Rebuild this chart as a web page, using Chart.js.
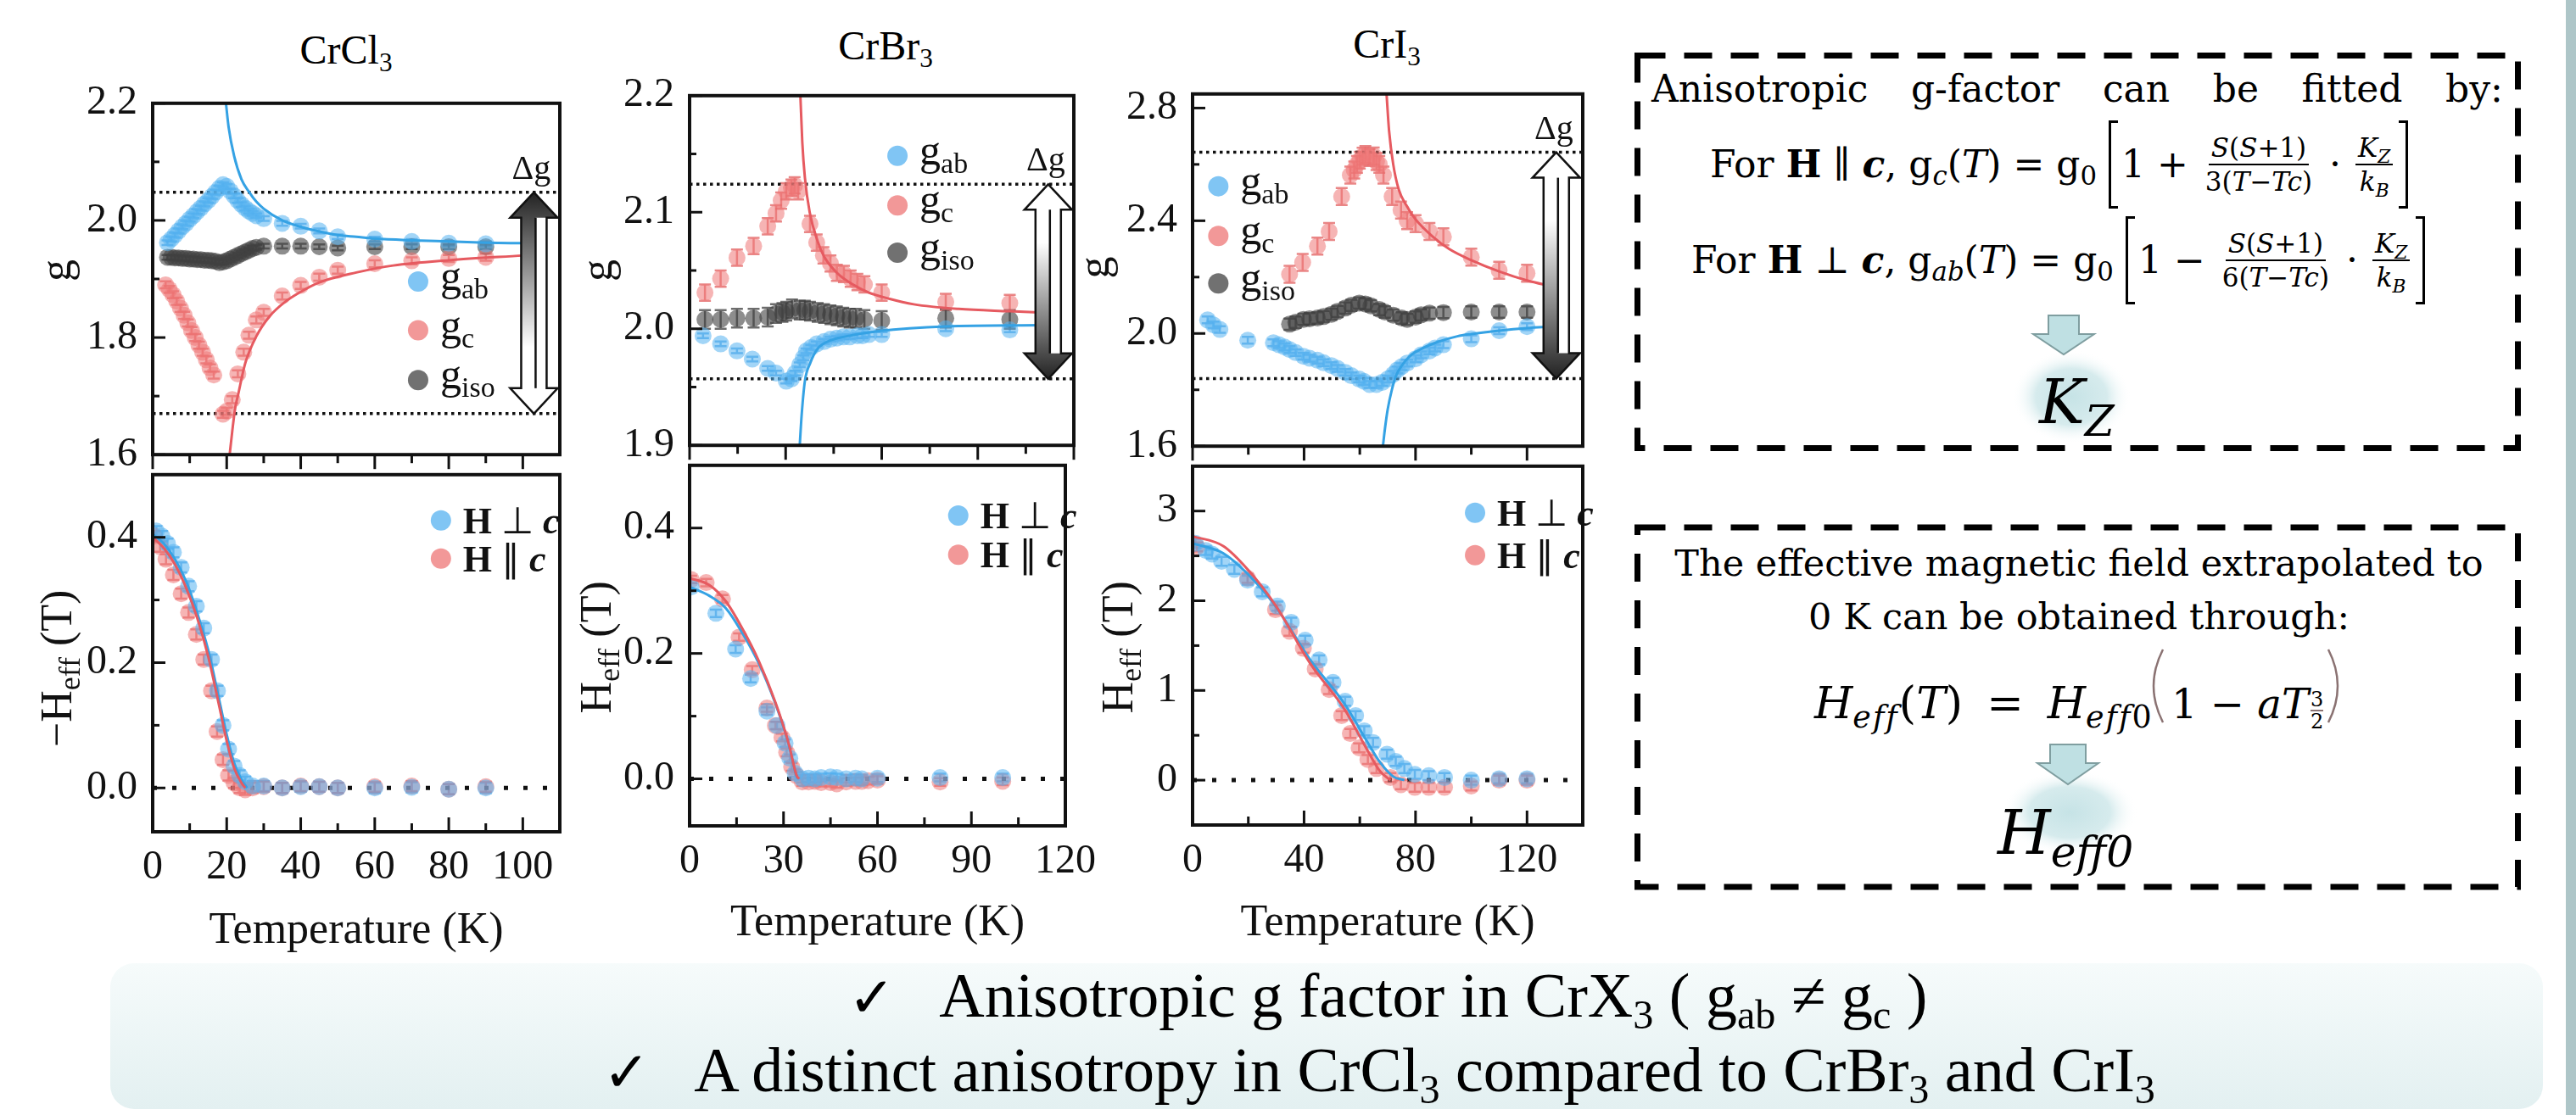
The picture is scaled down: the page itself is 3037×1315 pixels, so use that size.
<!DOCTYPE html>
<html>
<head>
<meta charset="utf-8">
<title>Anisotropic g factor in CrX3</title>
<script src="https://cdn.jsdelivr.net/npm/chart.js@4.4.1/dist/chart.umd.min.js"></script>
<style>
  html, body { margin: 0; padding: 0; background: #fff; }
  body { width: 3037px; height: 1315px; position: relative; overflow: hidden; font-family: 'Liberation Serif', serif; color: #000; }
  canvas { position: absolute; }
  .abs { position: absolute; white-space: nowrap; }
  .col { font-size: 48px; width: 240px; text-align: center; line-height: 48px; }
  .col sub, .chk sub { font-size: 0.65em; vertical-align: -0.3em; line-height: 0; }
  .box { font-family: 'DejaVu Serif', serif; }
  .just { display: flex; justify-content: space-between; }
  .frm { display: flex; align-items: center; }
  .frm > span { line-height: 1; }
  .frm sub, .bigf sub, .f2 sub { font-size: 0.7em; vertical-align: -0.3em; line-height: 0; }
  .f2 sub { letter-spacing: 2px; }
  .fr { display: inline-flex; flex-direction: column; align-items: center; font-size: 31px; margin: 0 3px; }
  .fr > span:first-child { border-bottom: 2.5px solid #000; padding: 0 3px 3px; }
  .fr > span:last-child { padding: 4px 3px 0; }
  .brk { width: 11px; height: 104px; border: 3px solid #000; box-sizing: border-box; }
  .brk.l { border-right: none; margin-right: 4px; }
  .brk.r { border-left: none; margin-left: 4px; }
  .sfr { display: inline-flex; flex-direction: column; font-size: 24px; line-height: 1; vertical-align: 14px; font-style: normal; margin-left: 2px; }
  .sfr > span:first-child { border-bottom: 2px solid #8a7272; }
  .chk { font-size: 74px; line-height: 74px; }
  .ck { font-family: 'DejaVu Sans', sans-serif; font-size: 66px; margin-right: 52px; }
</style>
</head>
<body>
<svg class="abs" style="left:0;top:0" width="3037" height="1315">
  <defs>
    <linearGradient id="tealBox" x1="0" y1="0" x2="0" y2="1">
      <stop offset="0" stop-color="#f6fbfb"/><stop offset="1" stop-color="#e3f0f1"/>
    </linearGradient>
    <radialGradient id="glow">
      <stop offset="0" stop-color="#c6e3e6"/><stop offset="0.6" stop-color="#d6ebed"/><stop offset="1" stop-color="#ffffff" stop-opacity="0"/>
    </radialGradient>
  </defs>
  <rect x="130" y="1136" width="2868" height="172" rx="28" fill="url(#tealBox)"/>
  <rect x="3025" y="0" width="12" height="1315" fill="#aec6c8"/>
  <rect x="1930.5" y="65.5" width="1038" height="463" fill="none" stroke="#000" stroke-width="7" stroke-dasharray="33 22"/>
  <rect x="1930.5" y="622" width="1038" height="424" fill="none" stroke="#000" stroke-width="7" stroke-dasharray="33 22"/>
  <ellipse cx="2442" cy="468" rx="70" ry="55" fill="url(#glow)"/>
  <ellipse cx="2440" cy="958" rx="80" ry="50" fill="url(#glow)"/>
  <polygon points="2415,372 2451,372 2451,394 2469,394 2433,418 2397,394 2415,394" fill="#bfe0e3" stroke="#7f9ea0" stroke-width="2"/>
  <polygon points="2417,878 2459,878 2459,900 2474,900 2438,925 2402,900 2417,900" fill="#bfe0e3" stroke="#7f9ea0" stroke-width="2"/>
  <path d="M2550 766 Q2528 809 2550 852" fill="none" stroke="#8a7272" stroke-width="2.5"/>
  <path d="M2745 766 Q2767 809 2745 852" fill="none" stroke="#8a7272" stroke-width="2.5"/>
</svg>

<div class="abs col" style="left:288px;top:35px;">CrCl<sub>3</sub></div>
<div class="abs col" style="left:924px;top:30px;">CrBr<sub>3</sub></div>
<div class="abs col" style="left:1515px;top:28px;">CrI<sub>3</sub></div>

<canvas id="clTop"></canvas>
<canvas id="clBot"></canvas>
<canvas id="brTop"></canvas>
<canvas id="brBot"></canvas>
<canvas id="iTop"></canvas>
<canvas id="iBot"></canvas>

<!-- right-hand boxes -->
<div class="abs box just" style="left:1947px;top:83px;width:1004px;font-size:44px;line-height:44px;">
  <span>Anisotropic</span><span>g-factor</span><span>can</span><span>be</span><span>fitted</span><span>by:</span>
</div>
<div class="abs box frm" style="left:2016px;top:141px;height:106px;font-size:44px;">
  <span>For&nbsp;<b>H</b>&nbsp;∥&nbsp;<b><i>c</i></b>,&nbsp;g<sub><i>c</i></sub>(<i>T</i>)&nbsp;=&nbsp;g<sub>0</sub>&nbsp;</span>
  <span class="brk l"></span>
  <span>1&nbsp;+&nbsp;</span>
  <span class="fr"><span><i>S</i>(<i>S</i>+1)</span><span>3(<i>T</i>−<i>Tc</i>)</span></span>
  <span>&nbsp;·&nbsp;</span>
  <span class="fr"><span><i>K<sub>Z</sub></i></span><span><i>k<sub>B</sub></i></span></span>
  <span class="brk r"></span>
</div>
<div class="abs box frm" style="left:1994px;top:254px;height:106px;font-size:44px;">
  <span>For&nbsp;<b>H</b>&nbsp;⊥&nbsp;<b><i>c</i></b>,&nbsp;g<sub><i>ab</i></sub>(<i>T</i>)&nbsp;=&nbsp;g<sub>0</sub>&nbsp;</span>
  <span class="brk l"></span>
  <span>1&nbsp;−&nbsp;</span>
  <span class="fr"><span><i>S</i>(<i>S</i>+1)</span><span>6(<i>T</i>−<i>Tc</i>)</span></span>
  <span>&nbsp;·&nbsp;</span>
  <span class="fr"><span><i>K<sub>Z</sub></i></span><span><i>k<sub>B</sub></i></span></span>
  <span class="brk r"></span>
</div>
<div class="abs box bigf" style="left:2404px;top:438px;font-size:72px;line-height:72px;font-style:italic;">K<sub>Z</sub></div>

<div class="abs box" style="left:1951px;width:1000px;top:643px;font-size:43px;line-height:43px;text-align:center;">The effective magnetic field extrapolated to</div>
<div class="abs box" style="left:1951px;width:1000px;top:706px;font-size:43px;line-height:43px;text-align:center;">0 K can be obtained through:</div>
<div class="abs box f2" style="left:2139px;top:803px;font-size:52px;line-height:52px;"><i>H</i><sub><i>eff</i></sub>(<i>T</i>)<span style="margin:0 28px">=</span><i>H</i><sub><i>eff</i>0</sub></div>
<div class="abs box f2" style="left:2560px;top:806px;font-size:48px;line-height:48px;">1 − <i>aT</i><span class="sfr"><span>3</span><span>2</span></span></div>
<div class="abs box bigf" style="left:2355px;top:946px;font-size:72px;line-height:72px;font-style:italic;">H<sub>eff0</sub></div>

<!-- summary -->
<div class="abs chk" style="left:1000px;top:1137px;"><span class="ck">✓</span>Anisotropic g factor in CrX<sub>3</sub> ( g<sub>ab</sub> ≠ g<sub>c</sub> )</div>
<div class="abs chk" style="left:711px;top:1225px;"><span class="ck">✓</span>A distinct anisotropy in CrCl<sub>3</sub> compared to CrBr<sub>3</sub> and CrI<sub>3</sub></div>

<script>
// ---------- axis ranges and tick labels ----------
const clTempRange = [0, 110], brTempRange = [0, 120], iTempRange = [0, 140];
const clTempTicks = [0, 20, 40, 60, 80, 100], clTempMinor = [10, 30, 50, 70, 90];
const brTempTicks = [0, 30, 60, 90, 120], brTempMinor = [15, 45, 75, 105];
const iTempTicks = [0, 40, 80, 120], iTempMinor = [20, 60, 100];

const clGRange = [1.6, 2.2], clGTicks = [1.6, 1.8, 2.0, 2.2], clGMinor = [1.7, 1.9, 2.1];
const brGRange = [1.9, 2.2], brGTicks = [1.9, 2.0, 2.1, 2.2], brGMinor = [1.95, 2.05, 2.15];
const iGRange = [1.6, 2.85], iGTicks = [1.6, 2.0, 2.4, 2.8], iGMinor = [1.8, 2.2, 2.6];

const clHRange = [-0.07, 0.5], clHTicks = [0, 0.2, 0.4], clHMinor = [0.1, 0.3];
const brHRange = [-0.075, 0.5], brHTicks = [0, 0.2, 0.4], brHMinor = [0.1, 0.3];
const iHRange = [-0.5, 3.5], iHTicks = [0, 1, 2, 3], iHMinor = [0.5, 1.5, 2.5];

// ---------- CrCl3 : g factor vs T ----------
const clGab = [[4,1.962],[5,1.968],[6,1.975],[7,1.982],[8,1.989],[9,1.995],[10,2.002],[11,2.008],[12,2.015],[13,2.021],[14,2.028],[15,2.034],[16,2.041],[17,2.048],[18,2.055],[19,2.061],[20,2.058],[21,2.05],[22,2.042],[23,2.034],[24,2.027],[25,2.021],[26,2.016],[27,2.012],[28,2.008],[30,2.003],[35,1.995],[40,1.99],[45,1.982],[50,1.972],[60,1.968],[70,1.964],[80,1.961],[90,1.96]];
const clGc = [[3.5,1.89],[4.5,1.882],[5.5,1.873],[6.5,1.862],[7.5,1.85],[8.5,1.838],[9.5,1.825],[10.5,1.812],[11.5,1.8],[12.5,1.787],[13.5,1.775],[14.5,1.762],[15.5,1.748],[16.5,1.736],[19,1.669],[20,1.674],[21.5,1.694],[23,1.738],[24.6,1.775],[26,1.804],[28,1.83],[30,1.843],[35,1.871],[40,1.889],[45,1.903],[50,1.915],[60,1.926],[70,1.931],[80,1.935],[90,1.937]];
const clGiso = [[4,1.937],[5,1.937],[6,1.936],[7,1.936],[8,1.935],[9,1.935],[10,1.934],[11,1.934],[12,1.933],[13,1.933],[14,1.932],[15,1.932],[16,1.931],[17,1.93],[18,1.928],[19,1.929],[20,1.931],[21,1.934],[22,1.937],[23,1.94],[24,1.943],[25,1.946],[26,1.949],[27,1.952],[28,1.954],[30,1.956],[35,1.956],[40,1.956],[45,1.955],[50,1.953],[60,1.955],[70,1.955],[80,1.955],[90,1.955]];
const clFitAb = [[19.8,2.2],[20.5,2.16],[22,2.11],[24,2.07],[26,2.049],[28,2.032],[30,2.02],[35,2.0],[40,1.989],[45,1.981],[50,1.975],[55,1.972],[60,1.969],[70,1.966],[80,1.964],[90,1.962],[100,1.961]];
const clFitC = [[20.8,1.6],[21.5,1.64],[22.3,1.68],[23,1.7],[25,1.756],[28,1.802],[31.7,1.837],[35.6,1.86],[40,1.878],[45,1.894],[55,1.911],[65,1.923],[80,1.932],[100,1.94]];
const clDg = [2.048, 1.67];
const clErrAb = 0.004, clErrC = 0.006, clErrIso = 0.004;

// ---------- CrCl3 : -Heff vs T ----------
const clHperp = [[1,0.41],[2.5,0.402],[4,0.39],[5.6,0.376],[7.7,0.352],[9.7,0.322],[11.8,0.29],[13.8,0.255],[15.9,0.205],[17.5,0.155],[19,0.1],[20.5,0.062],[22,0.035],[23.5,0.02],[25,0.01],[27,0.003],[30,0.003],[35,0.0],[40,0.002],[45,0.002],[50,0.0],[60,0.0],[70,0.001],[80,-0.002],[90,0.0]];
const clHpar = [[0.5,0.402],[2,0.385],[3.6,0.365],[5.6,0.34],[7.7,0.31],[9.7,0.28],[11.8,0.245],[13.8,0.205],[15.9,0.155],[17.4,0.09],[19,0.045],[20.5,0.02],[22,0.008],[23.5,0.0],[25,-0.003],[27,0.0],[30,0.002],[35,0.0],[40,0.003],[45,0.002],[50,0.0],[60,0.002],[70,0.003],[80,-0.002],[90,0.002]];
const clFitPerp = [[0,0.405],[3,0.39],[6,0.365],[9,0.33],[12,0.28],[15,0.22],[18,0.14],[20,0.085],[22,0.04],[24,0.013],[25.5,0.0]];
const clFitPar = [[0,0.4],[3,0.383],[6,0.357],[9,0.32],[12,0.272],[15,0.21],[18,0.13],[20,0.075],[22,0.032],[24,0.008],[25,0.0]];
const clErrH = 0.008;

// ---------- CrBr3 : g factor vs T ----------
const brGab = [[4.2,1.994],[9.7,1.987],[14.8,1.981],[19.6,1.974],[24.4,1.966],[27,1.962],[30.2,1.955],[31.8,1.957],[33,1.962],[34.4,1.969],[35.5,1.975],[36.5,1.981],[38,1.984],[39.7,1.987],[42,1.989],[44,1.991],[46,1.992],[48,1.993],[50,1.993],[52.4,1.994],[54,1.994],[56,1.995],[60,1.995],[80,2.0],[100,1.999]];
const brGc = [[4.8,2.031],[9.7,2.043],[14.8,2.061],[20,2.071],[24.4,2.088],[27,2.099],[28.6,2.11],[30.2,2.118],[31.8,2.121],[32.8,2.123],[33.9,2.118],[37.6,2.09],[39.7,2.074],[41.8,2.063],[44,2.056],[46,2.048],[48.2,2.047],[50.3,2.043],[52.4,2.04],[54.6,2.038],[60,2.031],[80,2.023],[100,2.022]];
const brGiso = [[4.8,2.008],[9.7,2.008],[14.8,2.009],[20,2.009],[24.4,2.01],[27,2.013],[29,2.014],[30.2,2.015],[32,2.017],[34.4,2.016],[36,2.016],[37.6,2.015],[40,2.014],[42,2.013],[44,2.012],[46,2.011],[48,2.01],[50,2.009],[52,2.009],[54.6,2.008],[60,2.007],[80,2.009],[100,2.008]];
const brFitAb = [[34.4,1.9],[35,1.926],[36,1.955],[37.6,1.97],[40,1.983],[44,1.99],[48,1.993],[59,1.998],[80,2.002],[110,2.003]];
const brFitC = [[34.6,2.2],[35.2,2.16],[36,2.13],[37.5,2.1],[40,2.075],[42,2.062],[46,2.048],[51,2.038],[56,2.031],[62,2.026],[70,2.021],[84,2.017],[100,2.015],[109,2.014]];
const brDg = [2.124, 1.957];
const brErrAb = 0.002, brErrC = 0.007, brErrIso = 0.008;

// ---------- CrBr3 : Heff vs T ----------
const brHperp = [[0.5,0.306],[8.4,0.264],[14.7,0.207],[19.5,0.16],[24.7,0.108],[27.9,0.085],[30.5,0.057],[32,0.033],[33.7,0.009],[36,0.0],[38,0.001],[40,0.0],[42,0.002],[45,0.003],[47,0.002],[50,0.0],[53,0.001],[55,0.0],[60,0.001],[80,0.002],[100,0.002]];
const brHpar = [[0.5,0.318],[5.3,0.313],[10.5,0.287],[15.8,0.226],[20,0.174],[24.7,0.113],[27.4,0.085],[29.5,0.066],[31,0.042],[32.6,0.019],[34.2,0.005],[36,-0.005],[38,-0.005],[40,-0.004],[42,-0.006],[45,-0.006],[47,-0.008],[50,-0.005],[53,-0.004],[55,-0.004],[57,-0.003],[60,-0.002],[80,-0.005],[100,-0.004]];
const brFitPerp = [[0,0.306],[6.3,0.292],[11.6,0.272],[16.8,0.233],[22.1,0.184],[27.4,0.12],[31.6,0.056],[34.2,0.004],[35,0]];
const brFitPar = [[0,0.32],[6.3,0.309],[11.6,0.283],[16.8,0.24],[22.1,0.188],[27.4,0.122],[31.6,0.057],[34.2,0.005],[35,0]];
const brErrH = 0.006;

// ---------- CrI3 : g factor vs T ----------
const iGab = [[5.4,2.048],[7.5,2.03],[9.8,2.014],[19.8,1.976],[29,1.967],[31,1.96],[33,1.952],[34.8,1.943],[37,1.932],[39.8,1.919],[42,1.912],[44.8,1.905],[47,1.896],[49.8,1.886],[52,1.876],[54.8,1.862],[57,1.85],[59.8,1.838],[61.5,1.83],[63.5,1.819],[66,1.819],[68,1.826],[70,1.838],[72,1.855],[73.5,1.871],[75,1.882],[77,1.895],[80,1.91],[82,1.924],[85,1.938],[87,1.948],[90,1.96],[100,1.981],[110,2.01],[120,2.024]];
const iGc = [[34.8,2.21],[39.5,2.252],[44.8,2.31],[49,2.362],[53.5,2.486],[56.6,2.562],[58,2.58],[59,2.6],[60,2.615],[61,2.629],[62,2.635],[63.5,2.624],[65,2.63],[66,2.61],[67,2.6],[68.5,2.562],[71.6,2.486],[74.8,2.438],[77,2.4],[80,2.39],[85,2.362],[90,2.343],[100,2.271],[110,2.224],[120,2.214]];
const iGiso = [[34.8,2.033],[37,2.04],[39.8,2.05],[42,2.052],[44.8,2.055],[47,2.06],[49.8,2.068],[52,2.078],[54.8,2.09],[57,2.1],[59.8,2.108],[62,2.105],[64,2.098],[67,2.085],[69,2.076],[72,2.065],[75,2.055],[77,2.05],[80,2.058],[82,2.066],[85,2.072],[90,2.074],[100,2.076],[110,2.076],[120,2.076]];
const iFitAb = [[68.3,1.6],[69,1.66],[70,1.73],[71.5,1.8],[73,1.85],[75,1.885],[78,1.92],[82,1.945],[88,1.97],[95,1.99],[100,1.998],[110,2.01],[120,2.019],[128.5,2.024]];
const iFitC = [[69.6,2.85],[70.5,2.72],[72,2.6],[74,2.51],[77,2.45],[80,2.405],[86,2.345],[92,2.3],[100,2.26],[110,2.22],[120,2.188],[129,2.167]];
const iDg = [2.643, 1.84];
const iErrAb = 0.012, iErrC = 0.03, iErrIso = 0.02;

// ---------- CrI3 : Heff vs T ----------
const iHperp = [[1,2.64],[4.75,2.56],[7,2.52],[10.4,2.44],[15,2.35],[19.75,2.23],[25,2.1],[30.4,1.94],[35.4,1.76],[40.4,1.56],[45.4,1.34],[50.4,1.09],[54.75,0.88],[58.5,0.72],[61.6,0.55],[64.75,0.42],[69.75,0.29],[72.9,0.21],[76,0.13],[79.75,0.065],[84.75,0.05],[90.4,0.03],[100,0.0],[110,0.016],[120,0.016]];
const iHpar = [[1.6,2.6],[19.75,2.25],[29.75,1.9],[34.75,1.66],[39.75,1.47],[44,1.24],[49,1.01],[53.5,0.72],[56.6,0.52],[59.75,0.36],[62.9,0.23],[66,0.13],[71,0.03],[74.75,-0.05],[79.75,-0.08],[84.75,-0.08],[90.4,-0.08],[100,-0.065],[110,0.0],[120,0.0]];
const iFitPerp = [[0,2.64],[11,2.53],[19.75,2.3],[29.75,1.94],[42.25,1.34],[54.75,0.84],[62.25,0.45],[67.25,0.2],[72,0.04],[76,0]];
const iFitPar = [[0,2.72],[11,2.61],[19.75,2.35],[29.75,1.95],[42.25,1.3],[54.75,0.78],[62.25,0.36],[67.25,0.1],[71,0]];
const iErrH = 0.05;

// ---------- styling ----------
const F = "'Liberation Serif', serif";
const BLUE_PT = 'rgba(86,178,240,0.55)', BLUE_ERR = 'rgba(70,160,230,0.75)', BLUE_LINE = '#35a2e4';
const RED_PT = 'rgba(238,118,118,0.55)', RED_ERR = 'rgba(225,95,95,0.75)', RED_LINE = '#e65a60';
const GRAY_PT = 'rgba(65,65,65,0.6)', GRAY_ERR = 'rgba(60,60,60,0.75)';
const LEG_BLUE = 'rgba(86,178,240,0.75)', LEG_RED = 'rgba(238,118,118,0.75)', LEG_GRAY = 'rgba(65,65,65,0.75)';

// frame boxes (page pixels)
const BOX = {
  cl: {l: 180, r: 660, t: 105, m: 543, b: 981, tt: 1099},
  br: {l: 813, r: 1266, t: 96, m: 532, b: 974, tt: 1090},
  i: {l: 1406, r: 1866, t: 94, m: 533, b: 973, tt: 1090}
};

const xy = a => a.map(p => ({x: p[0], y: p[1]}));

function pointSet(arr, color, err, errColor) {
  return {type: 'scatter', data: xy(arr), showLine: false, pointRadius: 10, pointHoverRadius: 10,
    pointBackgroundColor: color, pointBorderWidth: 0, err: err, errColor: errColor};
}
function fitSet(arr, color) {
  return {type: 'line', data: xy(arr), showLine: true, borderColor: color, borderWidth: 3,
    pointRadius: 0, cubicInterpolationMode: 'monotone', fill: false};
}
function dotSet(v, range, dash, width) {
  return {type: 'line', data: [{x: range[0], y: v}, {x: range[1], y: v}], borderColor: '#111',
    borderWidth: width, borderDash: dash, pointRadius: 0, fill: false};
}

function rich(ctx, parts, x, y, center) {
  let w = 0;
  parts.forEach(p => { ctx.font = p[1]; w += ctx.measureText(p[0]).width; });
  let cx = center ? x - w / 2 : x;
  parts.forEach(p => { ctx.font = p[1]; ctx.fillText(p[0], cx, y + (p[2] || 0)); cx += ctx.measureText(p[0]).width; });
}

function dgArrow(ctx, cx, yt, yb, darkTop) {
  const hw = 28, sw = 15, hl = 30;
  const outline = () => {
    ctx.beginPath();
    ctx.moveTo(cx, yt); ctx.lineTo(cx + hw, yt + hl); ctx.lineTo(cx + sw, yt + hl);
    ctx.lineTo(cx + sw, yb - hl); ctx.lineTo(cx + hw, yb - hl); ctx.lineTo(cx, yb);
    ctx.lineTo(cx - hw, yb - hl); ctx.lineTo(cx - sw, yb - hl); ctx.lineTo(cx - sw, yt + hl);
    ctx.lineTo(cx - hw, yt + hl); ctx.closePath();
  };
  outline(); ctx.fillStyle = '#fff'; ctx.fill();
  const g = ctx.createLinearGradient(0, yt, 0, yb);
  if (darkTop) { g.addColorStop(0, '#222'); g.addColorStop(0.7, '#fff'); }
  else { g.addColorStop(0.3, '#fff'); g.addColorStop(1, '#222'); }
  ctx.fillStyle = g;
  ctx.beginPath();
  if (darkTop) {
    ctx.moveTo(cx, yt); ctx.lineTo(cx + hw, yt + hl); ctx.lineTo(cx + 2, yt + hl);
    ctx.lineTo(cx + 2, yb - hl); ctx.lineTo(cx - sw, yb - hl); ctx.lineTo(cx - sw, yt + hl); ctx.lineTo(cx - hw, yt + hl);
  } else {
    ctx.moveTo(cx, yb); ctx.lineTo(cx + hw, yb - hl); ctx.lineTo(cx + 2, yb - hl);
    ctx.lineTo(cx + 2, yt + hl); ctx.lineTo(cx - sw, yt + hl); ctx.lineTo(cx - sw, yb - hl); ctx.lineTo(cx - hw, yb - hl);
  }
  ctx.closePath(); ctx.fill();
  ctx.strokeStyle = '#111'; ctx.lineWidth = 2.5;
  outline(); ctx.stroke();
  ctx.beginPath(); ctx.moveTo(cx + 2, yt + hl); ctx.lineTo(cx + 2, yb - hl); ctx.stroke();
}

// per-canvas decorations: frame, inward/outward ticks, error bars, legends, Δg arrow, y titles
const decorCfg = {};
const frameDecor = {
  id: 'frameDecor',
  beforeDatasetsDraw(chart) {
    const d = decorCfg[chart.canvas.id];
    if (!d) return;
    const {ctx, chartArea: a, scales: {x, y}} = chart;
    ctx.save();
    ctx.beginPath(); ctx.rect(a.left, a.top, a.right - a.left, a.bottom - a.top); ctx.clip();
    chart.data.datasets.forEach(ds => {
      if (!ds.err) return;
      ctx.strokeStyle = ds.errColor; ctx.lineWidth = 2.5;
      ds.data.forEach(pt => {
        const px = x.getPixelForValue(pt.x);
        const y1 = y.getPixelForValue(pt.y + ds.err), y2 = y.getPixelForValue(pt.y - ds.err);
        ctx.beginPath();
        ctx.moveTo(px, y1); ctx.lineTo(px, y2);
        ctx.moveTo(px - 7, y1); ctx.lineTo(px + 7, y1);
        ctx.moveTo(px - 7, y2); ctx.lineTo(px + 7, y2);
        ctx.stroke();
      });
    });
    ctx.restore();
  },
  afterDatasetsDraw(chart) {
    const d = decorCfg[chart.canvas.id];
    if (!d) return;
    const {ctx, chartArea: a, scales: {x, y}} = chart;
    const aw = a.right - a.left, ah = a.bottom - a.top;
    ctx.save();
    ctx.textBaseline = 'alphabetic';
    if (d.arrow) {
      const cx = x.getPixelForValue(d.arrow.x);
      const yt = y.getPixelForValue(d.arrow.top), yb = y.getPixelForValue(d.arrow.bottom);
      dgArrow(ctx, cx, yt, yb, d.arrow.darkTop);
      ctx.fillStyle = '#111';
      rich(ctx, [['Δg', '40px ' + F]], cx - 3, yt - 16, true);
    }
    if (d.legend) {
      d.legend.forEach(it => {
        const mx = a.left + it.fx * aw, my = a.top + it.fy * ah;
        ctx.fillStyle = it.color;
        ctx.beginPath(); ctx.arc(mx, my, 12, 0, Math.PI * 2); ctx.fill();
        ctx.fillStyle = '#111';
        rich(ctx, it.parts, mx + 26, my + it.base, false);
      });
    }
    // frame and tick marks
    ctx.strokeStyle = '#111'; ctx.lineWidth = 4;
    ctx.strokeRect(a.left, a.top, aw, ah);
    ctx.lineWidth = 3;
    const seg = (x1, y1, x2, y2) => { ctx.beginPath(); ctx.moveTo(x1, y1); ctx.lineTo(x2, y2); ctx.stroke(); };
    const dir = d.xOut ? 1 : -1;
    d.xMajor.forEach(v => { const px = x.getPixelForValue(v); seg(px, a.bottom, px, a.bottom + dir * 17); });
    d.xMinor.forEach(v => { const px = x.getPixelForValue(v); seg(px, a.bottom, px, a.bottom + dir * 10); });
    d.yMajor.forEach(v => { const py = y.getPixelForValue(v); seg(a.left, py, a.left + 15, py); });
    d.yMinor.forEach(v => { const py = y.getPixelForValue(v); seg(a.left, py, a.left + 8, py); });
    // rotated y-axis title
    if (d.yTitle) {
      ctx.save();
      ctx.translate(a.left + d.yTitle.dx, (a.top + a.bottom) / 2 + d.yTitle.dy);
      ctx.rotate(-Math.PI / 2);
      ctx.fillStyle = '#111';
      rich(ctx, d.yTitle.parts, 0, d.yTitle.base, true);
      ctx.restore();
    }
    ctx.restore();
  }
};

function buildPanel(p) {
  const c = document.getElementById(p.id);
  const top = p.part === 'top';
  const X = p.box.l - 170, W = p.box.r - p.box.l + 210;
  const Y = top ? p.box.t - 30 : p.box.m - 30;
  const H = top ? p.box.m - p.box.t + 70 : p.box.tt + 42 - Y;
  const axisH = top ? 0 : p.box.tt + 42 - p.box.b;
  c.width = W; c.height = H;
  c.style.left = X + 'px'; c.style.top = Y + 'px';
  c.style.width = W + 'px'; c.style.height = H + 'px';
  decorCfg[p.id] = p.decor;
  return new Chart(c, {
    type: 'scatter',
    data: {datasets: p.datasets},
    options: {
      responsive: false, animation: false, devicePixelRatio: 1, events: [],
      layout: {padding: {left: 0, top: 30, right: 40, bottom: top ? 40 : 0}},
      plugins: {legend: {display: false}, tooltip: {enabled: false}},
      scales: {
        x: {
          type: 'linear', min: p.xRange[0], max: p.xRange[1], display: !top,
          afterBuildTicks: s => { s.ticks = p.xTicks.map(v => ({value: v})); },
          afterFit: s => { s.height = axisH; },
          grid: {display: false, drawTicks: false}, border: {display: false},
          ticks: {color: '#111', font: {family: F, size: 48}, padding: 14, maxRotation: 0, autoSkip: false},
          title: {display: true, text: 'Temperature (K)', color: '#111', font: {family: F, size: 52}, padding: {top: 0, bottom: 11}}
        },
        y: {
          type: 'linear', min: p.yRange[0], max: p.yRange[1],
          afterBuildTicks: s => { s.ticks = p.yTicks.map(v => ({value: v})); },
          afterFit: s => { s.width = 170; },
          grid: {display: false, drawTicks: false}, border: {display: false},
          ticks: {color: '#111', font: {family: F, size: 48}, padding: 18, autoSkip: false, callback: v => v.toFixed(p.dec)}
        }
      }
    },
    plugins: [frameDecor]
  });
}

const gLegend = (fx, fys) => [
  {color: LEG_BLUE, fx: fx, fy: fys[0], base: 10, parts: [['g', '50px ' + F], ['ab', '34px ' + F, 10]]},
  {color: LEG_RED, fx: fx, fy: fys[1], base: 10, parts: [['g', '50px ' + F], ['c', '34px ' + F, 10]]},
  {color: LEG_GRAY, fx: fx, fy: fys[2], base: 10, parts: [['g', '50px ' + F], ['iso', '34px ' + F, 10]]}
];
const hLegend = (fx, fys) => [
  {color: LEG_BLUE, fx: fx, fy: fys[0], base: 15, parts: [['H', 'bold 44px ' + F], [' ⊥ ', '44px ' + F], ['c', 'bold italic 44px ' + F]]},
  {color: LEG_RED, fx: fx, fy: fys[1], base: 15, parts: [['H', 'bold 44px ' + F], [' ∥ ', '44px ' + F], ['c', 'bold italic 44px ' + F]]}
];
const gTitle = (dx, dy) => ({dx: dx, dy: dy, base: 12, parts: [['g', '52px ' + F]]});
const hTitle = (dx, dy, minus) => ({dx: dx, dy: dy, base: 17,
  parts: [[(minus ? '−' : '') + 'H', '52px ' + F], ['eff', '36px ' + F, 10], [' (T)', '52px ' + F]]});

// ---------- CrCl3 ----------
buildPanel({
  id: 'clTop', part: 'top', box: BOX.cl, xRange: clTempRange, xTicks: clTempTicks,
  yRange: clGRange, yTicks: clGTicks, dec: 1,
  datasets: [fitSet(clFitAb, BLUE_LINE), fitSet(clFitC, RED_LINE),
    pointSet(clGab, BLUE_PT, clErrAb, BLUE_ERR), pointSet(clGc, RED_PT, clErrC, RED_ERR), pointSet(clGiso, GRAY_PT, clErrIso, GRAY_ERR),
    dotSet(clDg[0], clTempRange, [3.5, 4.5], 3.5), dotSet(clDg[1], clTempRange, [3.5, 4.5], 3.5)],
  decor: {xMajor: clTempTicks, xMinor: clTempMinor, xOut: true, yMajor: clGTicks, yMinor: clGMinor,
    arrow: {x: 103, top: clDg[0], bottom: clDg[1], darkTop: true},
    legend: gLegend(0.652, [0.507, 0.646, 0.788]), yTitle: gTitle(-109, -10)}
});
buildPanel({
  id: 'clBot', part: 'bottom', box: BOX.cl, xRange: clTempRange, xTicks: clTempTicks,
  yRange: clHRange, yTicks: clHTicks, dec: 1,
  datasets: [fitSet(clFitPar, RED_LINE), fitSet(clFitPerp, BLUE_LINE),
    pointSet(clHperp, BLUE_PT, clErrH, BLUE_ERR), pointSet(clHpar, RED_PT, clErrH, RED_ERR),
    dotSet(0, clTempRange, [5, 18], 5)],
  decor: {xMajor: clTempTicks, xMinor: clTempMinor, xOut: false, yMajor: clHTicks, yMinor: clHMinor,
    legend: hLegend(0.708, [0.128, 0.235]), yTitle: hTitle(-113, 18, true)}
});

// ---------- CrBr3 ----------
buildPanel({
  id: 'brTop', part: 'top', box: BOX.br, xRange: brTempRange, xTicks: brTempTicks,
  yRange: brGRange, yTicks: brGTicks, dec: 1,
  datasets: [fitSet(brFitC, RED_LINE), fitSet(brFitAb, BLUE_LINE),
    pointSet(brGab, BLUE_PT, brErrAb, BLUE_ERR), pointSet(brGc, RED_PT, brErrC, RED_ERR), pointSet(brGiso, GRAY_PT, brErrIso, GRAY_ERR),
    dotSet(brDg[0], brTempRange, [3.5, 4.5], 3.5), dotSet(brDg[1], brTempRange, [3.5, 4.5], 3.5)],
  decor: {xMajor: brTempTicks, xMinor: brTempMinor, xOut: true, yMajor: brGTicks, yMinor: brGMinor,
    arrow: {x: 112, top: brDg[0], bottom: brDg[1], darkTop: false},
    legend: gLegend(0.541, [0.172, 0.314, 0.449]), yTitle: gTitle(-104, 0)}
});
buildPanel({
  id: 'brBot', part: 'bottom', box: BOX.br, xRange: brTempRange, xTicks: brTempTicks,
  yRange: brHRange, yTicks: brHTicks, dec: 1,
  datasets: [fitSet(brFitPar, RED_LINE), fitSet(brFitPerp, BLUE_LINE),
    pointSet(brHperp, BLUE_PT, brErrH, BLUE_ERR), pointSet(brHpar, RED_PT, brErrH, RED_ERR),
    dotSet(0, brTempRange, [5, 18], 5)],
  decor: {xMajor: brTempTicks, xMinor: brTempMinor, xOut: false, yMajor: brHTicks, yMinor: brHMinor,
    legend: hLegend(0.715, [0.139, 0.248]), yTitle: hTitle(-110, 2, false)}
});

// ---------- CrI3 ----------
buildPanel({
  id: 'iTop', part: 'top', box: BOX.i, xRange: iTempRange, xTicks: iTempTicks,
  yRange: iGRange, yTicks: iGTicks, dec: 1,
  datasets: [fitSet(iFitC, RED_LINE), fitSet(iFitAb, BLUE_LINE),
    pointSet(iGab, BLUE_PT, iErrAb, BLUE_ERR), pointSet(iGc, RED_PT, iErrC, RED_ERR), pointSet(iGiso, GRAY_PT, iErrIso, GRAY_ERR),
    dotSet(iDg[0], iTempRange, [3.5, 4.5], 3.5), dotSet(iDg[1], iTempRange, [3.5, 4.5], 3.5)],
  decor: {xMajor: iTempTicks, xMinor: iTempMinor, xOut: true, yMajor: iGTicks, yMinor: iGMinor,
    arrow: {x: 130.5, top: iDg[0], bottom: iDg[1], darkTop: false},
    legend: gLegend(0.066, [0.262, 0.403, 0.538]), yTitle: gTitle(-111, -3)}
});
buildPanel({
  id: 'iBot', part: 'bottom', box: BOX.i, xRange: iTempRange, xTicks: iTempTicks,
  yRange: iHRange, yTicks: iHTicks, dec: 0,
  datasets: [fitSet(iFitPar, RED_LINE), fitSet(iFitPerp, BLUE_LINE),
    pointSet(iHperp, BLUE_PT, iErrH, BLUE_ERR), pointSet(iHpar, RED_PT, iErrH, RED_ERR),
    dotSet(0, iTempRange, [5, 18], 5)],
  decor: {xMajor: iTempTicks, xMinor: iTempMinor, xOut: false, yMajor: iHTicks, yMinor: iHMinor,
    legend: hLegend(0.724, [0.13, 0.248]), yTitle: hTitle(-88, 2, false)}
});
</script>
</body>
</html>
